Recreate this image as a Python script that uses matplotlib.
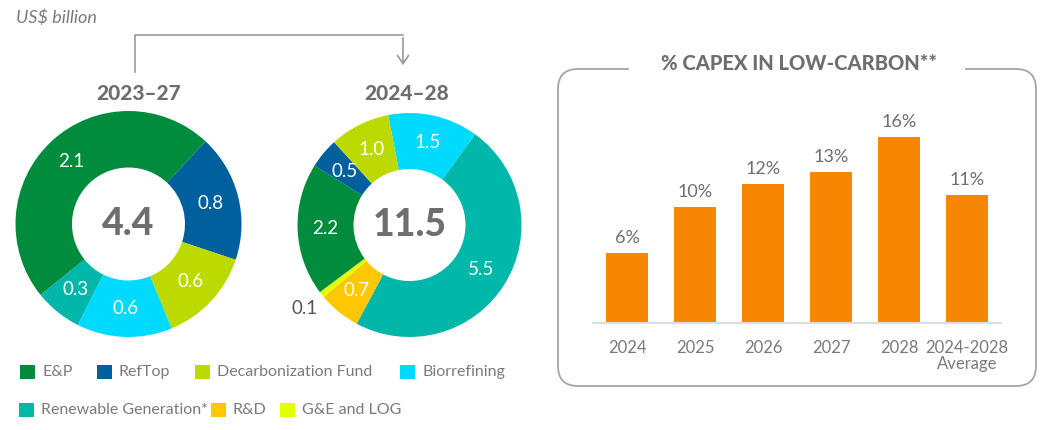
import numpy as np
import matplotlib
matplotlib.use("Agg")
import matplotlib.pyplot as plt
from matplotlib.patches import FancyBboxPatch, Rectangle, FancyArrowPatch
from matplotlib.lines import Line2D

# datos
categories = ["E&P", "RefTop", "Decarbonization Fund", "Biorrefining",
              "Renewable Generation*", "R&D", "G&E and LOG"]
colors = ["#008C3C", "#005F9D", "#BDDA00", "#00DAFF", "#00B7AA", "#FFC700", "#E3FF00"]
capex_2023_27 = [2.1, 0.8, 0.6, 0.6, 0.3, 0.0, 0.0]
capex_2024_28 = [2.2, 0.5, 1.0, 1.5, 5.5, 0.7, 0.1]
# orden de las porciones (sentido horario)
order_2023_27 = [1, 2, 3, 4, 0]
order_2024_28 = [3, 4, 5, 6, 0, 1, 2]

years = ["2024", "2025", "2026", "2027", "2028", "2024-2028\nAverage"]
low_carbon_pct = [6, 10, 12, 13, 16, 11]

GRAY = "#6D6E71"
LIGHT = "#7A7A7A"
plt.rcParams['font.family'] = ['Lato', 'DejaVu Sans']

W, H = 1049, 430
fig = plt.figure(figsize=(W / 100, H / 100), dpi=100)


def donut(cx, cy, r, values, order, start, title, tx):
    ax = fig.add_axes([(cx - r) / W, (H - cy - r) / H, 2 * r / W, 2 * r / H])
    vals = [values[i] for i in order]
    cols = [colors[i] for i in order]
    labs = ["%.1f" % v for v in vals]
    wedges, texts = ax.pie(vals, colors=cols, startangle=start, counterclock=False,
                           radius=1, labels=labs, labeldistance=0.75,
                           wedgeprops=dict(width=0.5, linewidth=0),
                           textprops=dict(color="white", fontsize=13.5))
    for w, t in zip(wedges, texts):
        t.set_ha("center")
        t.set_va("center")
        # la porcion pequeña lleva la etiqueta por fuera
        if (w.theta2 - w.theta1) < 10:
            ang = np.deg2rad((w.theta1 + w.theta2) / 2)
            t.set_position((1.2 * np.cos(ang), 1.2 * np.sin(ang)))
            t.set_color("#555555")
    ax.text(0, 0, "%.1f" % sum(values), ha="center", va="center",
            fontsize=27, fontweight="black", color=GRAY)
    ax.set_xlim(-1, 1)
    ax.set_ylim(-1, 1)
    fig.text(tx / W, 1 - 93 / H, title, ha="center", va="center",
             fontsize=15, fontweight="black", color=GRAY)


donut(128.5, 224, 113, capex_2023_27, order_2023_27, 47, "2023–27", 138.5)
donut(409.5, 225, 112, capex_2024_28, order_2024_28, 101, "2024–28", 407)

fig.text(16 / W, 1 - 18 / H, "US$ billion", ha="left", va="center",
         fontsize=13, style="italic", color=LIGHT)

# flecha entre periodos
arrow_c = "#9A9A9A"
fig.add_artist(Line2D([135 / W, 135 / W, 403 / W], [1 - 72 / H, 1 - 35 / H, 1 - 35 / H],
                      color=arrow_c, lw=1.2))
fig.add_artist(FancyArrowPatch(
    (403 / W, 1 - 35 / H), (403 / W, 1 - 68 / H), transform=fig.transFigure,
    arrowstyle="->,head_length=6,head_width=4", color=arrow_c, lw=1.2))

# leyenda
legend_rows = [([0, 1, 2, 3], [20, 97, 195, 400], 372), ([4, 5, 6], [19, 211, 280], 410)]
for idx, xs, y in legend_rows:
    for i, x in zip(idx, xs):
        fig.add_artist(Rectangle((x / W, 1 - (y + 7) / H), 15 / W, 14 / H,
                                 transform=fig.transFigure, fc=colors[i], ec="none"))
        fig.text((x + 22) / W, 1 - y / H, categories[i], ha="left", va="center",
                 fontsize=11.5, color=LIGHT)

# grafico de barras
box = FancyBboxPatch((5.58, 0.44), 4.78, 3.17, boxstyle="round,pad=0,rounding_size=0.2",
                     transform=fig.dpi_scale_trans, fc="none", ec="#A5A5A5", lw=1.3)
fig.add_artist(box)
fig.add_artist(Rectangle((6.29, 3.5), 3.36, 0.2, transform=fig.dpi_scale_trans,
                         fc="white", ec="none", zorder=2))
fig.text(799 / W, 1 - 64 / H, "% CAPEX IN LOW-CARBON**", ha="center", va="center",
         fontsize=14.5, fontweight="black", color=GRAY, zorder=3)

axb = fig.add_axes([593 / W, (H - 323) / H, 408 / W, 209 / H])
x = np.arange(len(years))
bars = axb.bar(x, low_carbon_pct, width=0.63, color="#F78702")
axb.bar_label(bars, labels=["%d%%" % v for v in low_carbon_pct], padding=5,
              fontsize=13, color=GRAY)
axb.set_xlim(-0.5, 5.5)
axb.set_ylim(0, 18)
axb.set_xticks(x)
axb.set_xticklabels(years, fontsize=12, color=LIGHT, linespacing=1.0)
axb.tick_params(axis="x", length=0, pad=12)
axb.set_yticks([])
for s in ["top", "left", "right"]:
    axb.spines[s].set_visible(False)
axb.spines["bottom"].set_color("#DDDDDD")
axb.spines["bottom"].set_linewidth(1.5)
axb.patch.set_alpha(0)

fig.savefig("out.png", dpi=100)
